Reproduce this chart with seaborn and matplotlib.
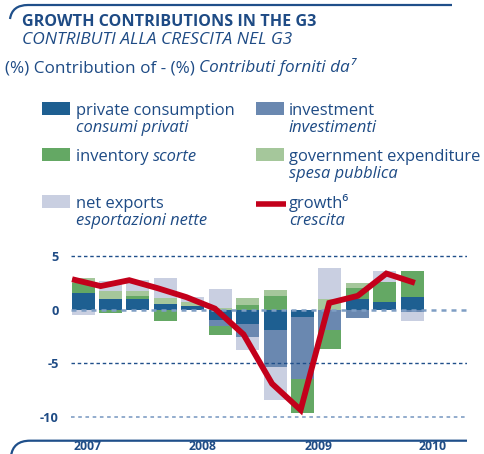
import numpy as np
import pandas as pd
import matplotlib
matplotlib.use("Agg")
import matplotlib.pyplot as plt
from matplotlib.patches import Rectangle, PathPatch
from matplotlib.path import Path
from matplotlib.lines import Line2D
import seaborn as sns

# quarterly contributions to G3 growth (percentage points), 2007Q1 - 2010Q1
quarters = ["2007Q1", "2007Q2", "2007Q3", "2007Q4", "2008Q1", "2008Q2", "2008Q3",
            "2008Q4", "2009Q1", "2009Q2", "2009Q3", "2009Q4", "2010Q1"]
private_consumption = [1.57, 0.98, 0.98, 0.51, 0.30, -0.98, -1.35, -1.91, -0.70, 0.0, 0.98, 0.73, 1.19]
investment = [0.0, 0.0, 0.0, 0.0, 0.0, -0.56, -1.18, -3.42, -5.78, -1.90, -0.76, 0.0, -0.25]
inventory = [0.93, -0.30, 0.31, -1.07, 0.0, -0.84, 0.42, 1.26, -3.14, -1.77, 1.05, 1.81, 2.40]
government = [0.41, 0.77, 0.47, 0.59, 0.40, 0.20, 0.65, 0.56, 0.0, 1.04, 0.50, 0.0, 0.0]
net_exports = [-0.51, 0.90, 1.00, 1.84, 0.50, 1.70, -1.24, -3.10, 0.0, 2.80, 0.0, 1.05, -0.77]
growth = [2.84, 2.20, 2.75, 2.00, 1.17, 0.10, -2.30, -6.90, -9.35, 0.63, 1.29, 3.37, 2.50]
year_labels = ["2007", "2008", "2009", "2010"]

NAVY = "#1e4b85"
RED = "#c3001b"
layers = [
    ("private consumption", "consumi privati", private_consumption, "#1e5f91"),
    ("investment", "investimenti", investment, "#6a88b0"),
    ("inventory", "scorte", inventory, "#64a864"),
    ("government expenditure", "spesa pubblica", government, "#a5c79b"),
    ("net exports", "esportazioni nette", net_exports, "#c9cfe1"),
]

sns.set_theme(style="white")
plt.rcParams["font.family"] = ["Open Sans", "DejaVu Sans"]

W, H = 485, 454
fig = plt.figure(figsize=(W / 100, H / 100), dpi=100)
ax = fig.add_axes([71 / W, 1 - 425 / H, 396 / W, 180 / H])


def fx(x):
    return x / W


def fy(y):
    return 1 - y / H


# stacked bars: positives stacked upwards, negatives downwards
df = pd.DataFrame({name: vals for name, _, vals, _ in layers}, index=quarters)
for sign in (1, -1):
    part = df.clip(lower=0) if sign > 0 else df.clip(upper=0)
    cum = part.cumsum(axis=1)
    # outermost layer first, inner layers painted over it
    for name, _, _, color in reversed(layers):
        sns.barplot(x=quarters, y=cum[name].values, order=quarters, color=color,
                    saturation=1, width=0.84, errorbar=None, linewidth=0, ax=ax, zorder=2)

# gridlines
ax.axhline(5, color="#1f4f8a", lw=1.0, ls=(0, (2.5, 2.0)), zorder=3)
ax.axhline(-5, color="#1f4f8a", lw=1.0, ls=(0, (2.5, 2.0)), zorder=3)
ax.axhline(0, color="#7f9ec4", lw=1.8, ls=(0, (2.0, 2.0)), zorder=3)
ax.axhline(-10, color="#8aa6c9", lw=1.3, ls=(0, (2.0, 2.0)), zorder=3)

# growth line
line_x = np.linspace(-0.40, 12.1, len(growth))
sns.lineplot(x=line_x, y=growth, color=RED, lw=4.2, ax=ax, zorder=4,
             solid_joinstyle="miter", solid_capstyle="butt", sort=False)

ax.set_xlim(-0.44, 14.0)
ax.set_ylim(-10.75, 6.03)
ax.set_yticks([5, 0, -5, -10])
ax.set_yticklabels(["5", "0", "-5", "-10"], fontsize=9.2, fontweight="bold", color=NAVY)
ax.set_xticks([0.16, 4.36, 8.58, 12.76])
ax.set_xticklabels(year_labels, fontsize=8.8, fontweight="bold", color=NAVY)
ax.tick_params(axis="y", length=0, pad=9)
ax.tick_params(axis="x", length=0, pad=10.5)
ax.set_xlabel("")
ax.set_ylabel("")
for s in ax.spines.values():
    s.set_visible(False)
ax.patch.set_alpha(0)

# headings
fig.text(fx(22), fy(25.7), "GROWTH CONTRIBUTIONS IN THE G3", fontsize=11.6,
         fontweight="bold", color=NAVY, va="baseline")
fig.text(fx(22), fy(43.8), "CONTRIBUTI ALLA CRESCITA NEL G3", fontsize=12.5,
         style="italic", color=NAVY, va="baseline")
t1 = fig.text(fx(5), fy(72.5), "(%) Contribution of - (%) ", fontsize=12.3,
              color=NAVY, va="baseline")
fig.canvas.draw()
bb = t1.get_window_extent()
fig.text(bb.x1 / W, fy(72.5), "Contributi forniti da\u2077", fontsize=12.3,
         style="italic", color=NAVY, va="baseline")

# legend, drawn by hand in two columns
LFS = 11.9
col_patch = [42, 256]
col_text = [76, 289]
rows = [(115, 131.7), (160.7, 178.3), (208.3, 225)]
slots = [(0, 0), (1, 0), (0, 1), (1, 1), (0, 2)]
for (name, it_name, _, color), (c, r) in zip(layers, slots):
    b1, b2 = rows[r]
    fig.add_artist(Rectangle((fx(col_patch[c]), fy(b1)), 28 / W, 13 / H,
                             transform=fig.transFigure, color=color, lw=0))
    if name == "inventory":
        tt = fig.text(fx(col_text[c]), fy(b1), "inventory ", fontsize=LFS,
                      color=NAVY, va="baseline")
        fig.canvas.draw()
        e = tt.get_window_extent()
        fig.text(e.x1 / W, fy(b1), it_name, fontsize=LFS, style="italic",
                 color=NAVY, va="baseline")
    else:
        fig.text(fx(col_text[c]), fy(b1), name, fontsize=LFS, color=NAVY, va="baseline")
        fig.text(fx(col_text[c]), fy(b2), it_name, fontsize=LFS, style="italic",
                 color=NAVY, va="baseline")

fig.add_artist(Line2D([fx(256), fx(286)], [fy(203.5), fy(203.5)], color=RED, lw=4,
                      transform=fig.transFigure, solid_capstyle="butt"))
fig.text(fx(289), fy(208.3), "growth\u2076", fontsize=LFS, color=NAVY, va="baseline")
fig.text(fx(289), fy(225), "crescita", fontsize=LFS, style="italic", color=NAVY, va="baseline")

# decorative frame lines
top = Path([(fx(452), fy(5)), (fx(28), fy(5)), (fx(12), fy(5)), (fx(10), fy(19))],
           [Path.MOVETO, Path.LINETO, Path.CURVE3, Path.CURVE3])
fig.add_artist(PathPatch(top, transform=fig.transFigure, fill=False, ec="#1f4f8a", lw=1.6))
bottom = Path([(fx(467), fy(440.7)), (fx(30), fy(440.7)), (fx(13), fy(440.7)), (fx(11), fy(456))],
              [Path.MOVETO, Path.LINETO, Path.CURVE3, Path.CURVE3])
fig.add_artist(PathPatch(bottom, transform=fig.transFigure, fill=False, ec="#1f4f8a", lw=1.6))

fig.savefig("out.png", dpi=100)
